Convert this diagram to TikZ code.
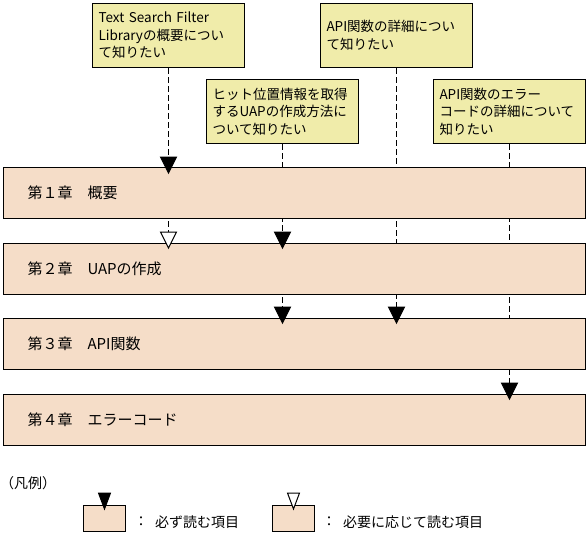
\documentclass[tikz,border=0pt]{standalone}
\usepackage{fontspec}
\setmainfont{Noto Sans CJK JP}
\usetikzlibrary{calc}
\pgfdeclarelayer{bg}
\pgfsetlayers{bg,main}
\definecolor{callfill}{RGB}{240,236,170}
\definecolor{chapfill}{RGB}{245,221,200}
\tikzset{
  dtri/.pic={\path[pic actions] (0,0) -- (-8,-16) -- (8,-16) -- cycle;},
  ltri/.pic={\path[pic actions] (0,0) -- (-6,-16) -- (6,-16) -- cycle;},
}
\begin{document}
\begin{tikzpicture}[x=1pt,y=-1pt,
  callout/.style={draw=black,line width=1pt,fill=callfill,anchor=north west,
    text width=140pt,inner xsep=6pt,inner ysep=0pt,minimum height=64pt,
    align=left,font=\fontsize{13.5pt}{17.5pt}\selectfont},
  chapter/.style={draw=black,line width=1pt,fill=chapfill,anchor=north west,
    text width=534pt,inner xsep=24pt,inner ysep=0pt,minimum height=51pt,
    align=left,font=\fontsize{15pt}{18pt}\selectfont},
  legbox/.style={draw=black,line width=1pt,fill=chapfill,anchor=north west,
    minimum width=42pt,minimum height=26pt,inner sep=0pt},
  legtext/.style={inner sep=0pt,font=\fontsize{14pt}{17pt}\selectfont},
  guide/.style={line width=1pt,dash pattern=on 6pt off 3pt},
  solidtip/.style={fill=black,draw=black,line width=1pt,line join=miter},
  opentip/.style={fill=white,draw=black,line width=1pt,line join=miter},
]
\useasboundingbox (0,0) rectangle (588,549);

% chapters
\node[chapter] (ch1) at (3,167) {第１章　概要};
\node[chapter] (ch2) at (3,243) {第２章　UAPの作成};
\node[chapter] (ch3) at (3,318) {第３章　API関数};
\node[chapter] (ch4) at (3,394) {第４章　エラーコード};

% callouts
\node[callout] (cA) at (92,3) {Text Search Filter\\Libraryの概要につい\\て知りたい};
\node[callout] (cB) at (206,79) {ヒット位置情報を取得\\するUAPの作成方法に\\ついて知りたい};
\node[callout] (cC) at (320,3) {API関数の詳細につい\\て知りたい};
\node[callout] (cD) at (433,79) {API関数のエラー\\コードの詳細について\\知りたい};

% arrow tip positions
\coordinate (tA1) at ($(cA.south |- ch1.north)+(0,6)$);
\coordinate (tA2) at ($(cA.south |- ch2.north)+(0,5)$);
\coordinate (tB2) at ($(cB.south |- ch2.north)+(0,5)$);
\coordinate (tB3) at ($(cB.south |- ch3.north)+(0,5)$);
\coordinate (tC3) at ($(cC.south |- ch3.north)+(0,5)$);
\coordinate (tD4) at ($(cD.south |- ch4.north)+(0,5)$);

\begin{pgfonlayer}{bg}
\draw[guide] (cA.south) -- (tA2);
\draw[guide] (cB.south) -- (tB3);
\draw[guide] (cC.south) -- (tC3);
\draw[guide] (cD.south) -- (tD4);
\end{pgfonlayer}

\pic[solidtip] at (tA1) {dtri};
\pic[opentip] at (tA2) {dtri};
\pic[solidtip] at (tB2) {dtri};
\pic[solidtip] at (tB3) {dtri};
\pic[solidtip] at (tC3) {dtri};
\pic[solidtip] at (tD4) {dtri};

% legend
\node[legtext,anchor=west] (leg) at (0,483) {（凡例）};
\node[legbox] (lg1) at (83,505) {};
\node[legbox] (lg2) at (272,505) {};
\coordinate (lt1) at ($(lg1.north)+(0,4)$);
\coordinate (lt2) at ($(lg2.north)+(0,4)$);
\pic[solidtip] at (lt1) {ltri};
\pic[opentip] at (lt2) {ltri};
\node[legtext] (col1) at (141,522) {：};
\node[legtext,anchor=west] (lx1) at (155,522) {必ず読む項目};
\node[legtext] (col2) at (329,522) {：};
\node[legtext,anchor=west] (lx2) at (343,522) {必要に応じて読む項目};
\end{tikzpicture}
\end{document}
